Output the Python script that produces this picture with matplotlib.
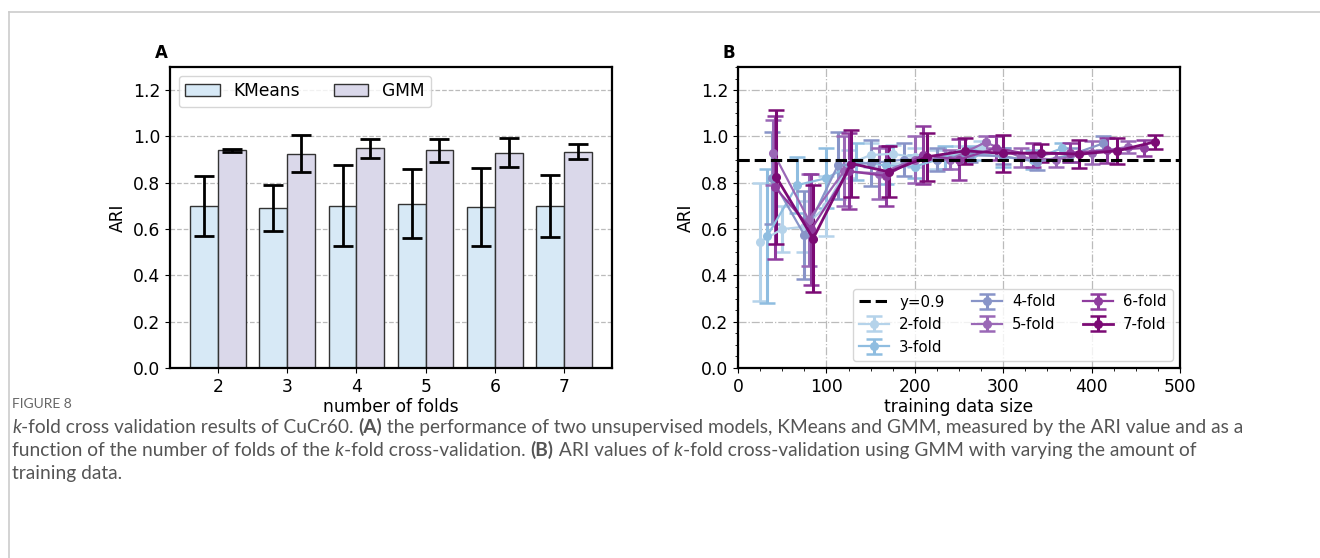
import numpy as np
import matplotlib.pyplot as plt
from matplotlib.lines import Line2D
from matplotlib.text import Annotation
from matplotlib.ticker import AutoMinorLocator

plt.rcParams["font.family"] = ["DejaVu Sans"]

# panel A: ARI for KMeans / GMM vs number of folds
folds = [2, 3, 4, 5, 6, 7]
kmeans_mean = [0.70, 0.69, 0.70, 0.71, 0.695, 0.70]
kmeans_std = [0.13, 0.10, 0.175, 0.15, 0.167, 0.133]
gmm_mean = [0.94, 0.925, 0.95, 0.94, 0.93, 0.935]
gmm_std = [0.007, 0.08, 0.041, 0.051, 0.062, 0.032]

# panel B: ARI vs training data size for each k
x2 = [25, 50, 75, 100, 125, 150, 175, 200, 225, 250, 275]
y2 = [0.545, 0.60, 0.61, 0.70, 0.88, 0.92, 0.925, 0.91, 0.90, 0.93, 0.95]
e2 = [0.255, 0.10, 0.11, 0.13, 0.06, 0.05, 0.04, 0.04, 0.04, 0.03, 0.03]
x3 = [33, 67, 100, 134, 167, 200, 234, 267, 300, 334, 367]
y3 = [0.57, 0.79, 0.82, 0.89, 0.875, 0.87, 0.91, 0.93, 0.91, 0.90, 0.95]
e3 = [0.29, 0.12, 0.13, 0.08, 0.08, 0.05, 0.05, 0.03, 0.04, 0.04, 0.02]
x4 = [38, 75, 113, 150, 188, 225, 263, 300, 338, 376, 413]
y4 = [0.82, 0.575, 0.875, 0.885, 0.90, 0.90, 0.92, 0.915, 0.89, 0.92, 0.97]
e4 = [0.20, 0.19, 0.145, 0.10, 0.07, 0.05, 0.03, 0.035, 0.035, 0.03, 0.03]
x5 = [40, 80, 120, 160, 200, 240, 280, 320, 360, 401, 441]
y5 = [0.93, 0.64, 0.85, 0.84, 0.90, 0.90, 0.975, 0.91, 0.90, 0.93, 0.955]
e5 = [0.14, 0.20, 0.15, 0.11, 0.10, 0.04, 0.025, 0.04, 0.03, 0.05, 0.025]
x6 = [42, 83, 125, 167, 209, 250, 292, 334, 376, 417, 459]
y6 = [0.78, 0.60, 0.85, 0.83, 0.92, 0.90, 0.95, 0.92, 0.93, 0.94, 0.95]
e6 = [0.31, 0.24, 0.165, 0.13, 0.125, 0.09, 0.05, 0.05, 0.04, 0.055, 0.035]
x7 = [43, 85, 128, 171, 214, 257, 300, 343, 386, 429, 472]
y7 = [0.826, 0.559, 0.883, 0.847, 0.912, 0.938, 0.927, 0.929, 0.924, 0.938, 0.977]
e7 = [0.29, 0.23, 0.145, 0.11, 0.105, 0.055, 0.08, 0.04, 0.06, 0.055, 0.03]

series = [
    (x2, y2, e2, "2-fold", "#b5d3ea"),
    (x3, y3, e3, "3-fold", "#8fbde0"),
    (x4, y4, e4, "4-fold", "#8894c8"),
    (x5, y5, e5, "5-fold", "#9a68b6"),
    (x6, y6, e6, "6-fold", "#8f3c9e"),
    (x7, y7, e7, "7-fold", "#7b0a74"),
]

fs = 12.3
fig = plt.figure(figsize=(13.2, 5.58), dpi=100)

# page frame lines
fig.add_artist(Line2D([9 / 1320, 1], [1 - 12 / 558] * 2, color="#cccccc", lw=1.2))
fig.add_artist(Line2D([9 / 1320] * 2, [0, 1 - 12 / 558], color="#cccccc", lw=1.2))

# ---- panel A ----
ax1 = fig.add_axes([170 / 1320, 1 - 368 / 558, 442 / 1320, 301 / 558])
xs = np.array(folds)
w = 0.4
ax1.bar(xs - w / 2, kmeans_mean, w, yerr=kmeans_std, color="#d7e9f6",
        edgecolor="#333333", lw=1, capsize=7,
        error_kw=dict(elinewidth=2, capthick=2, ecolor="black"), label="KMeans", zorder=2)
ax1.bar(xs + w / 2, gmm_mean, w, yerr=gmm_std, color="#dad8ea",
        edgecolor="#333333", lw=1, capsize=7,
        error_kw=dict(elinewidth=2, capthick=2, ecolor="black"), label="GMM", zorder=2)
ax1.set_xticks(folds)
ax1.set_ylim(0, 1.3)
ax1.set_yticks(np.arange(0, 1.21, 0.2))
ax1.yaxis.grid(True, ls="--", color="#bbbbbb", lw=0.9, zorder=0)
ax1.set_axisbelow(True)
ax1.set_xlabel("number of folds", fontsize=fs, labelpad=2)
ax1.set_ylabel("ARI", fontsize=fs)
ax1.tick_params(labelsize=fs)
for s in ax1.spines.values():
    s.set_linewidth(1.6)
ax1.legend(loc="upper left", ncol=2, fontsize=fs)
ax1.text(-0.035, 1.03, "A", transform=ax1.transAxes, fontsize=12, fontweight="bold")

# ---- panel B ----
ax2 = fig.add_axes([738 / 1320, 1 - 368 / 558, 442 / 1320, 301 / 558])
ax2.axhline(0.9, color="black", ls="--", lw=2.2, label="y=0.9", zorder=5)
for x, y, e, lab, c in series:
    lw = 2 if lab == "7-fold" else 1.6
    ax2.errorbar(x, y, yerr=e, fmt="-o", color=c, lw=lw, ms=5.5, capsize=6,
                 elinewidth=2.2, capthick=1.8, label=lab)
ax2.set_xlim(0, 500)
ax2.set_ylim(0, 1.3)
ax2.set_yticks(np.arange(0, 1.21, 0.2))
ax2.xaxis.set_minor_locator(AutoMinorLocator(4))
ax2.yaxis.set_minor_locator(AutoMinorLocator(4))
ax2.grid(True, ls="-.", color="#bbbbbb", lw=0.9)
ax2.set_axisbelow(True)
ax2.set_xlabel("training data size", fontsize=fs, labelpad=2)
ax2.set_ylabel("ARI", fontsize=fs)
ax2.tick_params(labelsize=fs)
for s in ax2.spines.values():
    s.set_linewidth(1.6)
ax2.legend(loc="lower right", ncol=3, fontsize=10.8, columnspacing=1.8,
           handletextpad=0.7)
ax2.text(-0.035, 1.03, "B", transform=ax2.transAxes, fontsize=12, fontweight="bold")

# ---- caption ----
cap_font = ["Lato", "DejaVu Sans"]
cap_col = "#555555"
fig.text(12 / 1320, 1 - 408 / 558, "FIGURE 8", fontsize=10, color="#666666",
         family=cap_font)

lines = [
    [("k", "italic", "normal"), ("-fold cross validation results of CuCr60. ", "normal", "normal"),
     ("(A)", "normal", "bold"),
     (" the performance of two unsupervised models, KMeans and GMM, measured by the ARI value and as a",
      "normal", "normal")],
    [("function of the number of folds of the ", "normal", "normal"), ("k", "italic", "normal"),
     ("-fold cross-validation. ", "normal", "normal"), ("(B)", "normal", "bold"),
     (" ARI values of ", "normal", "normal"), ("k", "italic", "normal"),
     ("-fold cross-validation using GMM with varying the amount of", "normal", "normal")],
    [("training data.", "normal", "normal")],
]
baselines = [433, 456, 479]
for segs, yb in zip(lines, baselines):
    prev = None
    for txt, style, weight in segs:
        if prev is None:
            prev = fig.text(12 / 1320, 1 - yb / 558, txt, fontsize=13.8, color=cap_col,
                            family=cap_font, style=style, weight=weight, va="baseline")
        else:
            a = Annotation(txt, xy=(1, 0), xycoords=prev, va="bottom", ha="left",
                           fontsize=13.8, color=cap_col, family=cap_font,
                           style=style, weight=weight)
            fig.add_artist(a)
            prev = a

fig.savefig("out.png", dpi=100)
